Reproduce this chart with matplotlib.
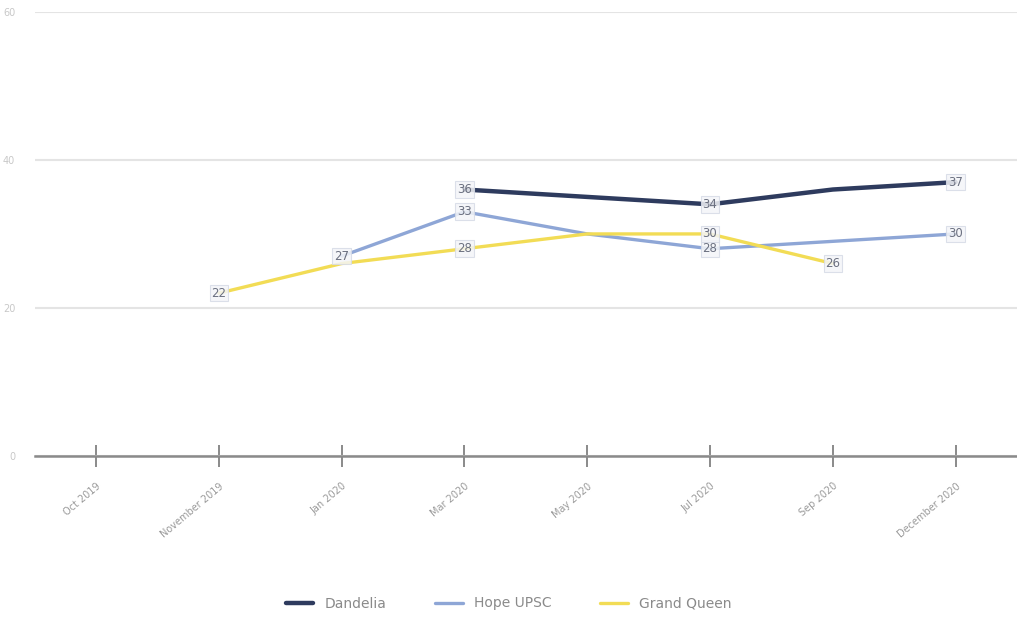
import numpy as np
import matplotlib
matplotlib.use("Agg")
from matplotlib import pyplot as plt

periods = ["Oct 2019", "November 2019", "Jan 2020", "Mar 2020",
           "May 2020", "Jul 2020", "Sep 2020", "December 2020"]

dandelia = [np.nan, np.nan, np.nan, 36, 35, 34, 36, 37]
hope_upsc = [np.nan, np.nan, 27, 33, 30, 28, 29, 30]
grand_queen = [np.nan, 22, 26, 28, 30, 30, 26, np.nan]

# which points carry a value label
dandelia_lbl = [3, 5, 7]
hope_lbl = [2, 3, 5, 7]
queen_lbl = [1, 3, 5, 6]

c_dark = "#2e3b5e"
c_blue = "#8ea6d6"
c_yellow = "#f2dc55"

fig = plt.figure(figsize=(10.17, 6.23), dpi=100)
ax = fig.add_axes([0.034, 0.268, 0.966, 0.713])

x = np.arange(len(periods))
series = [
    ("Dandelia", dandelia, c_dark, 3.2, dandelia_lbl),
    ("Hope UPSC", hope_upsc, c_blue, 2.4, hope_lbl),
    ("Grand Queen", grand_queen, c_yellow, 2.4, queen_lbl),
]
for name, vals, col, lw, lbl in series:
    ax.plot(x, vals, color=col, lw=lw, label=name, solid_capstyle="round", zorder=3)
    for i in lbl:
        ax.annotate(f"{vals[i]:g}", (x[i], vals[i]), ha="center", va="center",
                    fontsize=8.5, color="#6b7080", zorder=4,
                    bbox=dict(boxstyle="square,pad=0.15", fc="#f4f5f8", ec="#d6dbe6",
                              lw=0.8, alpha=0.85))

ax.set_xlim(-0.5, len(periods) - 0.5)
ax.set_ylim(0, 60)
ax.set_yticks([0, 20, 40, 60])
ax.yaxis.grid(True, color="#e4e4e4", lw=1.5)
ax.set_axisbelow(True)
for s in ["top", "right", "left"]:
    ax.spines[s].set_visible(False)
ax.spines["bottom"].set_color("#8a8a8a")
ax.spines["bottom"].set_linewidth(1.8)

ax.set_xticks(x)
ax.set_xticklabels(periods, rotation=40, ha="right", rotation_mode="anchor",
                   fontsize=7, color="#9a9a9a")
ax.tick_params(axis="x", direction="inout", length=16, width=1.4, color="#8a8a8a", pad=10)
ax.tick_params(axis="y", length=0, labelsize=7, labelcolor="#c8c8c8", pad=14)

fig.legend(loc="lower center", bbox_to_anchor=(0.5, 0.0), ncol=3, frameon=False,
           fontsize=10, labelcolor="#8a8a8a", handlelength=2.0, columnspacing=3.5)

fig.savefig("out.png", dpi=100, facecolor="white")
